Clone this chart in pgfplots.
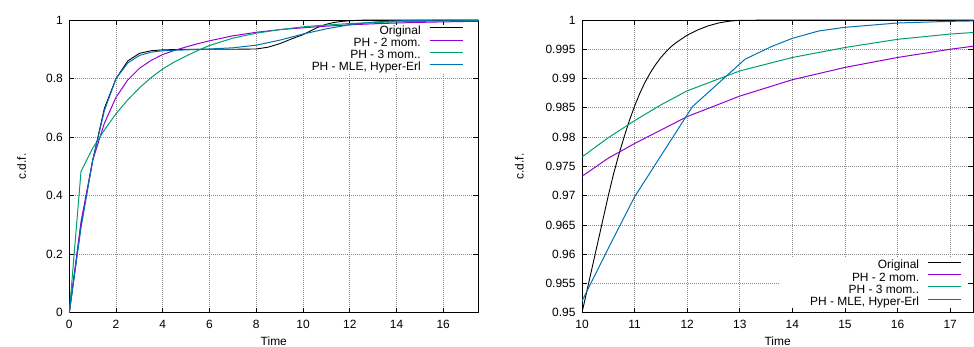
\documentclass[border=0pt]{standalone}
\usepackage{pgfplots}
\pgfplotsset{compat=1.18}
\usepackage{pgfplotstable}
\usepackage{fontspec}
\setmainfont{Liberation Sans}
\pgfdeclarelayer{gridmask}
\definecolor{cpurple}{RGB}{148,0,211}
\definecolor{cgreen}{RGB}{0,158,115}
\definecolor{cblue}{RGB}{0,114,178}
\definecolor{cgrid}{RGB}{140,140,140}

\pgfplotstableread{
x y
0 0
0.5 0.30
1 0.52
1.5 0.698
2 0.80
2.5 0.860
3 0.886
3.5 0.895
4 0.898
5 0.900
6 0.900
7 0.900
8 0.901
8.5 0.907
9 0.919
9.5 0.935
10 0.950
10.1 0.954
10.2 0.958
10.3 0.962
10.4 0.966
10.5 0.970
10.6 0.9737
10.7 0.9770
10.8 0.9800
10.9 0.9828
11 0.9853
11.1 0.9875
11.2 0.9894
11.3 0.9910
11.4 0.9924
11.5 0.9936
11.6 0.9946
11.7 0.9955
11.8 0.9962
11.9 0.9968
12 0.9974
12.2 0.9983
12.4 0.9990
12.6 0.9995
12.8 0.9998
13 0.99995
14 1.0
17.5 1.0
}\original

\pgfplotstableread{
x y
0 0
0.5 0.31
1 0.52
1.5 0.647
2 0.736
2.5 0.795
3 0.835
3.5 0.862
4 0.882
4.5 0.896
5 0.908
5.5 0.919
6 0.929
7 0.946
8 0.958
9 0.967
10 0.9733
10.5 0.9764
11 0.9789
11.5 0.9812
12 0.9835
13 0.9870
14 0.9898
15 0.9919
16 0.9936
17 0.9950
17.5 0.9956
}\phtwo

\pgfplotstableread{
x y
0 0
0.5 0.482
1 0.562
1.5 0.624
2 0.680
2.5 0.727
3 0.768
3.5 0.803
4 0.833
4.5 0.857
5 0.877
5.5 0.896
6 0.913
7 0.938
8 0.955
9 0.967
10 0.9766
10.5 0.9799
11 0.9828
11.5 0.9855
12 0.9879
13 0.9913
14 0.9936
15 0.9953
16 0.9967
17 0.9976
17.5 0.9979
}\phthree

\pgfplotstableread{
x y
0 0
0.5 0.29
1 0.52
1.5 0.69
2 0.80
2.5 0.853
3 0.879
3.5 0.890
4 0.895
5 0.898
6 0.901
7 0.905
8 0.914
9 0.931
10 0.952
10.5 0.961
11 0.9698
12.1 0.9852
13.1 0.9933
13.6 0.99545
14 0.99687
14.5 0.99812
15 0.99875
16 0.99949
17 0.99977
17.5 0.99985
}\mle

\pgfplotsset{
  layers/masked/.define layer set={axis background,axis grid,gridmask,axis ticks,axis lines,axis tick labels,pre main,main,axis descriptions,axis foreground}{
    grid style={/pgfplots/on layer=axis grid},
    tick style={/pgfplots/on layer=axis ticks},
    axis line style={/pgfplots/on layer=axis lines},
    label style={/pgfplots/on layer=axis descriptions},
    legend style={/pgfplots/on layer=axis descriptions},
    title style={/pgfplots/on layer=axis descriptions},
    colorbar style={/pgfplots/on layer=axis descriptions},
    ticklabel style={/pgfplots/on layer=axis tick labels},
    axis background@ style={/pgfplots/on layer=axis background},
    3d box foreground style={/pgfplots/on layer=axis foreground},
  },
  gp/.style={
    set layers=masked,
    scale only axis,
    height=292.7bp,
    anchor=south west,
    axis line style={black, line width=0.9bp},
    tick style={black, line width=0.7bp},
    tick align=inside,
    major tick length=5bp,
    grid=major,
    major grid style={cgrid, dash pattern=on 0.7bp off 1.3bp, line width=0.7bp},
    /pgf/number format/.cd, fixed, precision=3, assume math mode=true, /pgfplots/.cd,
    ticklabel style={font=\fontsize{12}{14}\selectfont},
    xticklabel style={yshift=-4bp},
    yticklabel style={xshift=-3bp},
    label style={font=\fontsize{12}{14}\selectfont},
    xlabel={Time},
    ylabel={c.d.f.},
    legend plot pos=right,
    legend cell align=right,
    legend image code/.code={\draw[##1] (0bp,3.3bp) -- (33bp,3.3bp);},
    legend style={draw=none, fill=none, inner sep=0pt, row sep=0pt,
      font=\fontsize{12}{14}\selectfont,
      nodes={inner sep=0.5bp, text height=8.6bp, text depth=2.6bp},
      /tikz/every odd column/.append style={column sep=7.9bp}},
  },
  lo/.style={black, line width=0.9bp},
  l2/.style={cpurple, line width=1bp},
  l3/.style={cgreen, line width=1bp},
  l4/.style={cblue, line width=1bp},
}

\begin{document}
\begin{tikzpicture}

\begin{axis}[gp,
  at={(69.3bp,34.3bp)},
  width=409bp,
  xmin=0, xmax=17.5, ymin=0, ymax=1,
  xtick={0,2,4,6,8,10,12,14,16},
  ytick={0,0.2,0.4,0.6,0.8,1},
  xlabel style={at={(axis description cs:0.5,-0.0965)}, anchor=center},
  ylabel style={at={(axis description cs:-0.1164,0.5)}, anchor=center},
  legend style={at={(1,1)}, anchor=north east, xshift=-15bp, yshift=-4.9bp},
]
\begin{pgfonlayer}{gridmask}
\fill[white] (axis cs:9.87,0.8155) rectangle (axis cs:17.5,1);
\end{pgfonlayer}
\addplot[lo] table {\original};
\addlegendentry{Original}
\addplot[l2] table {\phtwo};
\addlegendentry{PH - 2 mom.}
\addplot[l3] table {\phthree};
\addlegendentry{PH - 3 mom..}
\addplot[l4] table {\mle};
\addlegendentry{PH - MLE, Hyper-Erl}
\end{axis}

\begin{axis}[gp,
  at={(582bp,34.3bp)},
  width=391.3bp,
  xmin=10, xmax=17.44, ymin=0.95, ymax=1,
  xtick={10,11,12,13,14,15,16,17},
  ytick={0.95,0.955,0.96,0.965,0.97,0.975,0.98,0.985,0.99,0.995,1},
  xlabel style={at={(axis description cs:0.5,-0.0965)}, anchor=center},
  ylabel style={at={(axis description cs:-0.1602,0.5)}, anchor=center},
  legend style={at={(1,0)}, anchor=south east, xshift=-11.6bp, yshift=4.0bp},
]
\begin{pgfonlayer}{gridmask}
\fill[white] (axis cs:13.77,0.95) rectangle (axis cs:17.44,0.9593);
\end{pgfonlayer}
\addplot[lo] table {\original};
\addlegendentry{Original}
\addplot[l2] table {\phtwo};
\addlegendentry{PH - 2 mom.}
\addplot[l3] table {\phthree};
\addlegendentry{PH - 3 mom..}
\addplot[l4] table {\mle};
\addlegendentry{PH - MLE, Hyper-Erl}
\end{axis}

\pgfresetboundingbox
\useasboundingbox (0,0) rectangle (974bp,347bp);
\end{tikzpicture}
\end{document}
